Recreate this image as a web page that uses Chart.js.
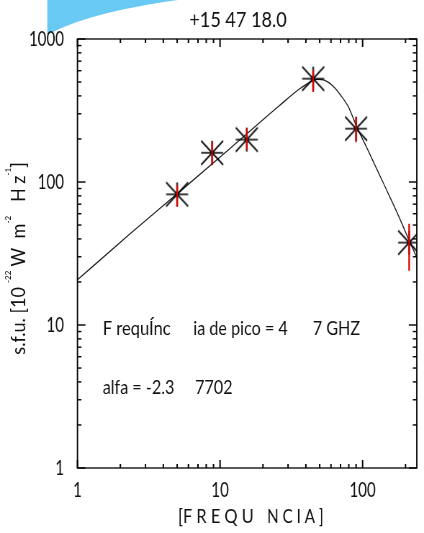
<!DOCTYPE html>
<html>
<head>
<meta charset="utf-8">
<script src="https://cdn.jsdelivr.net/npm/chart.js@4.4.1/dist/chart.umd.min.js"></script>
<style>
  html, body { margin: 0; padding: 0; background: #fff; overflow: hidden; }
  canvas { display: block; }
</style>
</head>
<body>
<canvas id="sed" width="589" height="533" style="width:424px;height:533px"></canvas>
<script>
// the canvas is drawn 589 wide and shown 424 wide: squeezes text like the original
var S = 424 / 589;

// measured points (GHz, sfu) with their error ranges
var freqGHz = [5.0, 8.8, 15.4, 45, 90, 212];
var fluxSfu = [82, 160, 198, 528, 236, 37.7];
var errLow  = [67, 131, 167, 426, 190, 24];
var errHigh = [95, 190, 237, 604, 285, 51];

// fitted spectrum
var fitFreq = [1, 2.35, 5.24, 11.7, 26.0, 35.8, 42.0, 47.8, 54.3, 61.7, 70.2, 79.8, 90.7, 110, 140, 178, 212, 249];
var fitFlux = [20.7, 43.6, 86, 171, 341, 445, 494, 522, 514, 471, 404, 333, 245, 164, 98, 58.5, 39.1, 27.4];

// axes
var xRange = [1, 240];
var yRange = [1, 1000];
var xTickLabels = [1, 10, 100];
var yTickLabels = [1, 10, 100, 1000];

var titleText = '+15 47 18.0';
var xTitle = ['[F R E Q U', 'N C I A ]'];
var noteLine1 = ['F requÍnc', 'ia de pico = 4', '7 GHZ'];
var noteLine2 = ['alfa = -2.3', '7702'];

// 1,2,...,9,10,20,... between two limits
function logSteps(lo, hi) {
  var out = [];
  var e0 = Math.round(Math.log10(lo));
  for (var e = e0; e < e0 + 6; e++) {
    for (var m = 1; m <= 9; m++) {
      var v = Math.round(m * Math.pow(10, e) * 1000) / 1000;
      if (v >= lo && v <= hi) out.push(v);
    }
  }
  return out;
}

// asterisk marker, pre-stretched so it looks right after the squeeze
function asterisk() {
  var rx = 11 / S, ry = 12;
  var c = document.createElement('canvas');
  c.width = Math.round(2 * rx + 4);
  c.height = 2 * ry + 4;
  var g = c.getContext('2d');
  var cx = c.width / 2, cy = c.height / 2;
  g.strokeStyle = '#000';
  g.lineWidth = 1.7;
  g.beginPath();
  g.moveTo(cx - rx, cy); g.lineTo(cx + rx, cy);
  g.moveTo(cx - rx, cy - ry); g.lineTo(cx + rx, cy + ry);
  g.moveTo(cx - rx, cy + ry); g.lineTo(cx + rx, cy - ry);
  g.stroke();
  g.lineWidth = 1.5 / S;
  g.beginPath(); g.moveTo(cx, cy - ry); g.lineTo(cx, cy + ry); g.stroke();
  return c;
}

// text in screen pixels (undoes the squeeze, then applies kx)
function txt(ctx, str, x, y, size, kx, align) {
  ctx.save();
  ctx.scale(1 / S, 1);
  ctx.translate(x, y);
  ctx.scale(kx, 1);
  ctx.font = size + 'px Lato';
  ctx.fillStyle = '#111';
  ctx.textAlign = align || 'left';
  ctx.textBaseline = 'alphabetic';
  ctx.fillText(str, 0, 0);
  ctx.restore();
}

function yTitle(ctx, cy) {
  var runs = [['s.f.u. [10', 0], ['  -22  ', 1], ['W  m', 0], ['-2', 1], ['   H z', 0], ['-1', 1], [']', 0]];
  ctx.save();
  ctx.scale(1 / S, 1);
  ctx.translate(25, cy);
  ctx.rotate(-Math.PI / 2);
  ctx.scale(0.95, 1);
  ctx.fillStyle = '#111';
  ctx.textBaseline = 'alphabetic';
  var total = 0;
  runs.forEach(function (r) {
    ctx.font = (r[1] ? 8.5 : 19) + 'px Lato';
    total += ctx.measureText(r[0]).width;
  });
  var x = -total / 2;
  runs.forEach(function (r) {
    ctx.font = (r[1] ? 8.5 : 19) + 'px Lato';
    ctx.fillText(r[0], x, r[1] ? -14 : 0);
    x += ctx.measureText(r[0]).width;
  });
  ctx.restore();
}

// inward ticks on all four sides, then the box
function drawFrame(chart) {
  var ctx = chart.ctx, a = chart.chartArea;
  var xs = chart.scales.x, ys = chart.scales.y;
  ctx.save();
  ctx.fillStyle = '#000';

  var xv = logSteps(xRange[0], xRange[1]);
  for (var i = 0; i < xv.length; i++) {
    var px = xs.getPixelForValue(xv[i]);
    var lx = xTickLabels.indexOf(xv[i]) >= 0 ? 8 : 4;
    ctx.fillRect(px - 1, a.bottom - lx, 2, lx);
    ctx.fillRect(px - 1, a.top, 2, lx);
  }
  var yv = logSteps(yRange[0], yRange[1]);
  for (var j = 0; j < yv.length; j++) {
    var py = ys.getPixelForValue(yv[j]);
    var ly = (yTickLabels.indexOf(yv[j]) >= 0 ? 8 : 4) / S;
    ctx.fillRect(a.left, py - 0.7, ly, 1.4);
    ctx.fillRect(a.right - ly, py - 0.7, ly, 1.4);
  }

  var bw = 1.3, bh = 1.3 / S;
  ctx.fillRect(a.left - bh / 2, a.top - bw / 2, a.right - a.left + bh, bw);
  ctx.fillRect(a.left - bh / 2, a.bottom - bw / 2, a.right - a.left + bh, bw);
  ctx.fillRect(a.left - bh / 2, a.top, bh, a.bottom - a.top);
  ctx.fillRect(a.right - bh / 2, a.top, bh, a.bottom - a.top);
  ctx.restore();
}

var decor = {
  id: 'decor',
  beforeDraw: function (chart) {
    var ctx = chart.ctx;
    ctx.save();
    ctx.scale(1 / S, 1);
    ctx.fillStyle = '#68c9f3';
    ctx.beginPath();
    ctx.moveTo(47.3, 0);
    ctx.lineTo(178, 0);
    ctx.quadraticCurveTo(87.4, 12.5, 47.3, 35);
    ctx.closePath();
    ctx.fill();
    ctx.restore();
  },
  afterDatasetsDraw: function (chart) {
    var ctx = chart.ctx;
    var xs = chart.scales.x, ys = chart.scales.y;
    ctx.save();
    ctx.strokeStyle = '#e00000';
    ctx.lineWidth = 1.6 / S;
    ctx.beginPath();
    freqGHz.forEach(function (f, i) {
      var px = xs.getPixelForValue(f);
      ctx.moveTo(px, ys.getPixelForValue(errLow[i]));
      ctx.lineTo(px, ys.getPixelForValue(errHigh[i]));
    });
    ctx.stroke();
    ctx.restore();
  },
  afterDraw: function (chart) {
    var ctx = chart.ctx, a = chart.chartArea;
    drawFrame(chart);
    txt(ctx, titleText, 238, 26.7, 21, 0.86, 'center');
    txt(ctx, xTitle[0], 178, 523, 19, 0.86);
    txt(ctx, xTitle[1], 267, 523, 19, 0.8);
    txt(ctx, noteLine1[0], 102.7, 335, 19, 0.87);
    txt(ctx, noteLine1[1], 193.3, 335, 19, 0.85);
    txt(ctx, noteLine1[2], 312.7, 335, 19, 0.85);
    txt(ctx, noteLine2[0], 102.7, 394.3, 19, 0.85);
    txt(ctx, noteLine2[1], 195, 394.3, 19, 0.85);
    yTitle(ctx, (a.top + a.bottom) / 2 + 5);
  }
};

new Chart(document.getElementById('sed'), {
  type: 'scatter',
  data: {
    datasets: [{
      data: freqGHz.map(function (f, i) { return {x: f, y: fluxSfu[i]}; }),
      pointStyle: asterisk(),
      pointRadius: 6,
      showLine: false
    }, {
      data: fitFreq.map(function (f, i) { return {x: f, y: fitFlux[i]}; }),
      showLine: true,
      pointRadius: 0,
      borderColor: '#1a1a1a',
      borderWidth: 1.3,
      cubicInterpolationMode: 'monotone',
      fill: false
    }]
  },
  options: {
    responsive: false,
    devicePixelRatio: 1,
    animation: false,
    layout: { padding: { top: 39, right: 7, left: 0, bottom: 0 } },
    plugins: { legend: { display: false }, tooltip: { enabled: false }, title: { display: false } },
    scales: {
      x: {
        type: 'logarithmic',
        min: xRange[0], max: xRange[1],
        grid: { display: false, drawTicks: false },
        border: { display: false },
        ticks: {
          autoSkip: false, maxRotation: 0, padding: 10,
          color: '#111', font: { family: 'Lato', size: 21 },
          callback: function (v) { return xTickLabels.indexOf(v) >= 0 ? String(v) : ''; }
        },
        afterFit: function (s) { s.height = 65; }
      },
      y: {
        type: 'logarithmic',
        min: yRange[0], max: yRange[1],
        grid: { display: false, drawTicks: false },
        border: { display: false },
        ticks: {
          autoSkip: false, padding: 18.7,
          color: '#111', font: { family: 'Lato', size: 21 },
          callback: function (v) { return yTickLabels.indexOf(v) >= 0 ? String(v) : ''; }
        },
        afterFit: function (s) { s.width = 107.6; }
      }
    }
  },
  plugins: [decor]
});
</script>
</body>
</html>
